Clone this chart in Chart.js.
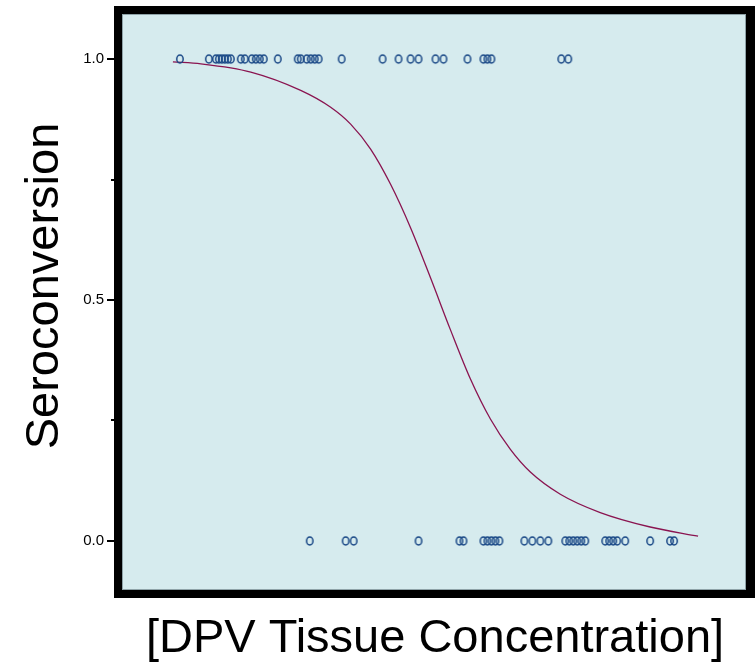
<!DOCTYPE html>
<html>
<head>
<meta charset="utf-8">
<script src="https://cdn.jsdelivr.net/npm/chart.js@4/dist/chart.umd.min.js"></script>
<style>
  html, body { margin: 0; padding: 0; background: #fff; }
  canvas { display: block; }
</style>
</head>
<body>
<canvas id="chart" width="755" height="662"></canvas>
<script>
// Observed outcomes (x = tissue concentration, arbitrary units)
const positiveX = [11.6, 17.4, 18.8, 19.4, 20.0, 20.6, 21.2, 21.8, 23.8, 24.6, 26.0, 26.8, 27.6, 28.4, 31.2,
                   35.2, 35.8, 37.0, 37.8, 38.6, 39.4, 44.0, 52.2, 55.4, 57.8, 59.4, 62.8, 64.4, 69.2,
                   72.4, 73.2, 74.0, 88.0, 89.4];
const negativeX = [37.6, 44.8, 46.4, 59.4, 67.6, 68.4, 72.4, 73.2, 74.0, 74.8, 75.6, 80.6, 82.2, 83.8, 85.4,
                   88.8, 89.6, 90.4, 91.2, 92.0, 92.8, 96.8, 97.6, 98.4, 99.2, 100.8, 105.8, 109.8, 110.6];

// Fitted curve
const curveX = [10.2, 15.8, 25.8, 35.8, 41.8, 45.8, 49.8, 53.8, 57.8, 61.8, 65.8, 69.8, 73.8, 77.8, 81.8, 87.8, 95.8, 105.8, 115.4];
const curveY = [0.994, 0.990, 0.973, 0.935, 0.900, 0.865, 0.813, 0.740, 0.650, 0.546, 0.438, 0.336, 0.253, 0.190, 0.143, 0.097, 0.059, 0.029, 0.010];

const yTicks = [0, 0.25, 0.5, 0.75, 1];
const yLabels = { 0: '0.0', 0.5: '0.5', 1: '1.0' };

// hollow ellipse marker (markers look slightly taller than wide)
const marker = document.createElement('canvas');
marker.width = 10; marker.height = 12;
(function () {
    const m = marker.getContext('2d');
    m.strokeStyle = '#174685';
    m.lineWidth = 1.5;
    m.beginPath();
    m.ellipse(5, 6, 3.2, 4.0, 0, 0, Math.PI * 2);
    m.stroke();
})();

const frame = {
    id: 'frame',
    beforeDraw(chart) {
        const { ctx, chartArea: a } = chart;
        ctx.save();
        ctx.fillStyle = '#000';
        ctx.fillRect(a.left - 8, a.top - 8, a.right - a.left + 17, a.bottom - a.top + 16);
        ctx.fillStyle = '#d6ebee';
        ctx.fillRect(a.left, a.top, a.right - a.left, a.bottom - a.top);
        ctx.strokeStyle = '#8fa3a8';
        ctx.lineWidth = 1;
        ctx.strokeRect(a.left + 0.5, a.top + 0.5, a.right - a.left - 1, a.bottom - a.top - 1);

        // tick marks outside the black frame
        const y = chart.scales.y;
        ctx.fillStyle = '#000';
        yTicks.forEach(v => {
            const py = Math.round(y.getPixelForValue(v));
            const len = yLabels[v] ? 7 : 3;
            ctx.fillRect(a.left - 8 - len, py - 1, len, 2);
        });

        // axis titles
        ctx.fillStyle = '#000';
        ctx.font = '47px "Liberation Sans", Arial, sans-serif';
        ctx.textAlign = 'center';
        ctx.textBaseline = 'alphabetic';
        ctx.fillText('[DPV Tissue Concentration]', 435, 652);
        ctx.translate(58, 286);
        ctx.rotate(-Math.PI / 2);
        ctx.fillText('Seroconversion', 0, 0);
        ctx.restore();
    }
};

const ctx = document.getElementById('chart').getContext('2d');
new Chart(ctx, {
    type: 'scatter',
    data: {
        datasets: [
            {
                label: 'Curve',
                data: curveX.map((x, i) => ({ x: x, y: curveY[i] })),
                showLine: true,
                borderColor: '#8a1450',
                borderWidth: 1.3,
                pointRadius: 0,
                cubicInterpolationMode: 'monotone',
                order: 2
            },
            {
                label: 'Seroconverted',
                data: positiveX.map(x => ({ x: x, y: 1 })),
                pointStyle: marker,
                order: 1
            },
            {
                label: 'Not seroconverted',
                data: negativeX.map(x => ({ x: x, y: 0 })),
                pointStyle: marker,
                order: 1
            }
        ]
    },
    options: {
        responsive: false,
        animation: false,
        layout: { padding: { top: 14, right: 9, left: 0, bottom: 0 } },
        plugins: {
            legend: { display: false },
            tooltip: { enabled: false }
        },
        scales: {
            x: {
                type: 'linear',
                min: 0,
                max: 125,
                ticks: { display: false },
                grid: { display: false },
                border: { display: false },
                afterFit(scale) { scale.height = 72; scale.paddingLeft = 0; scale.paddingRight = 0; }
            },
            y: {
                type: 'linear',
                min: -0.1017,
                max: 1.0934,
                afterBuildTicks(scale) { scale.ticks = yTicks.map(v => ({ value: v })); },
                afterFit(scale) { scale.width = 122; scale.paddingTop = 0; scale.paddingBottom = 0; },
                ticks: {
                    autoSkip: false,
                    padding: 18,
                    color: '#000',
                    font: { family: '"Liberation Sans", Arial, sans-serif', size: 15 },
                    callback: v => yLabels[v] || ''
                },
                grid: { display: false, drawTicks: false },
                border: { display: false }
            }
        }
    },
    plugins: [frame]
});
</script>
</body>
</html>
